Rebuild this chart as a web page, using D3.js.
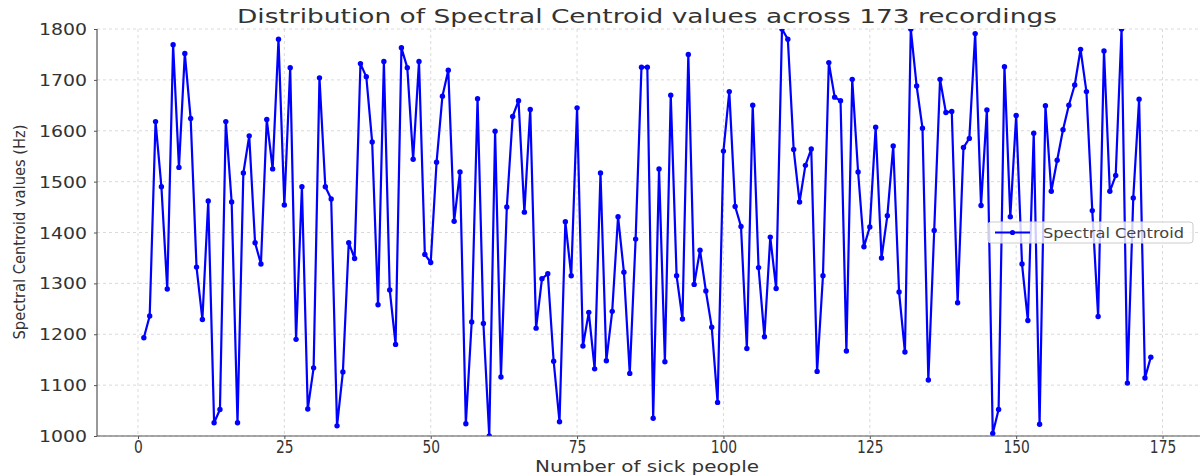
<!DOCTYPE html>
<html>
<head>
<meta charset="utf-8">
<script src="https://cdn.jsdelivr.net/npm/d3@7"></script>
<style>
  html, body { margin: 0; padding: 0; background: #fff; }
  svg { display: block; }
  text { font-family: "DejaVu Sans", sans-serif; }
</style>
</head>
<body>
<svg id="chart" width="1200" height="476"></svg>
<script>
// ---- Data ----
const recordings = d3.range(1, 174);
const centroidValues = [
  1193, 1236, 1618, 1490, 1289, 1769, 1528, 1752, 1624, 1332,
  1229, 1462, 1026, 1052, 1618, 1460, 1026, 1517, 1590, 1380,
  1338, 1622, 1525, 1780, 1454, 1724, 1190, 1490, 1053, 1134,
  1704, 1490, 1466, 1020, 1126, 1380, 1349, 1732, 1706, 1578,
  1258, 1736, 1287, 1180, 1763, 1724, 1544, 1736, 1357, 1341,
  1538, 1668, 1719, 1422, 1519, 1024, 1224, 1663, 1221, 1000,
  1599, 1116, 1450, 1628, 1659, 1440, 1642, 1212, 1309, 1319,
  1147, 1028, 1421, 1315, 1645, 1177, 1243, 1132, 1517, 1148,
  1245, 1431, 1322, 1123, 1387, 1725, 1725, 1035, 1525, 1146,
  1670, 1315, 1230, 1750, 1298, 1365, 1285, 1214, 1066, 1560,
  1677, 1451, 1412, 1172, 1650, 1331, 1195, 1391, 1290, 1800,
  1780, 1563, 1460, 1532, 1564, 1127, 1315, 1734, 1666, 1659,
  1167, 1701, 1519, 1372, 1411, 1607, 1350, 1433, 1570, 1283,
  1165, 1800, 1688, 1605, 1110, 1404, 1701, 1636, 1638, 1262,
  1567, 1585, 1791, 1453, 1641, 1005, 1052, 1726, 1431, 1630,
  1338, 1227, 1595, 1023, 1649, 1481, 1542, 1602, 1650, 1690,
  1760, 1677, 1443, 1235, 1757, 1481, 1512, 1800, 1104, 1468,
  1662, 1114, 1155
];
const xTicks = [0, 25, 50, 75, 100, 125, 150, 175];
const yTicks = [1000, 1100, 1200, 1300, 1400, 1500, 1600, 1700, 1800];
const titleText = "Distribution of Spectral Centroid values across 173 recordings";
const xLabelText = "Number of sick people";
const yLabelText = "Spectral Centroid values (Hz)";
const seriesName = "Spectral Centroid";

const data = recordings.map((r, i) => ({ x: r, y: centroidValues[i] }));

// ---- Layout ----
const svg = d3.select("#chart");
const plot = { left: 97, right: 1200, top: 29, bottom: 436 };

const x = d3.scaleLinear().domain([-7, 181.4]).range([plot.left, plot.right]);
const y = d3.scaleLinear().domain([1000, 1800]).range([plot.bottom, plot.top]);

svg.append("defs").append("clipPath").attr("id", "clip")
  .append("rect")
  .attr("x", plot.left).attr("y", plot.top)
  .attr("width", plot.right - plot.left).attr("height", plot.bottom - plot.top);

// Grid
const grid = svg.append("g").attr("class", "grid");
grid.selectAll("line.gy").data(yTicks).join("line")
  .attr("x1", plot.left).attr("x2", plot.right)
  .attr("y1", d => y(d)).attr("y2", d => y(d))
  .attr("stroke", "#d0d0d0").attr("stroke-width", 0.8)
  .attr("stroke-dasharray", "3,3");
grid.selectAll("line.gx").data(xTicks).join("line")
  .attr("y1", plot.top).attr("y2", plot.bottom)
  .attr("x1", d => x(d)).attr("x2", d => x(d))
  .attr("stroke", "#d0d0d0").attr("stroke-width", 0.8)
  .attr("stroke-dasharray", "3,3");

// Series
const g = svg.append("g").attr("clip-path", "url(#clip)");
const line = d3.line().x(d => x(d.x)).y(d => y(d.y));
g.append("path").datum(data)
  .attr("d", line)
  .attr("fill", "none")
  .attr("stroke", "#0000ff")
  .attr("stroke-width", 2.2)
  .attr("stroke-linejoin", "round");
g.selectAll("circle").data(data).join("circle")
  .attr("cx", d => x(d.x)).attr("cy", d => y(d.y))
  .attr("r", 2.7).attr("fill", "#0000ff");

// Axes
const xAxis = svg.append("g")
  .attr("transform", `translate(0,${plot.bottom})`)
  .call(d3.axisBottom(x).tickValues(xTicks).tickSize(3).tickPadding(2).tickFormat(d3.format("d")));
const yAxis = svg.append("g")
  .attr("transform", `translate(${plot.left},0)`)
  .call(d3.axisLeft(y).tickValues(yTicks).tickSize(3).tickPadding(7).tickFormat(d3.format("d")));

[xAxis, yAxis].forEach(a => {
  a.select(".domain").attr("stroke", "#555").attr("stroke-width", 1.2);
  a.selectAll(".tick line").attr("stroke", "#555");
  a.selectAll(".tick text").attr("fill", "#333").attr("font-family", "DejaVu Sans");
});
xAxis.select(".domain").attr("d", `M${plot.left},0H${plot.right}`);
yAxis.select(".domain").attr("d", `M0,${plot.bottom}V${plot.top}`);

xAxis.selectAll(".tick text")
  .attr("font-size", 17)
  .attr("textLength", d => String(d).length * 8.8)
  .attr("lengthAdjust", "spacingAndGlyphs");
yAxis.selectAll(".tick text")
  .attr("font-size", 15.5)
  .attr("dy", "0.36em")
  .attr("textLength", d => String(d).length * 12)
  .attr("lengthAdjust", "spacingAndGlyphs");

// Title & labels
svg.append("text")
  .attr("x", 647).attr("y", 23)
  .attr("text-anchor", "middle")
  .attr("font-size", 19)
  .attr("fill", "#333")
  .attr("textLength", 820).attr("lengthAdjust", "spacingAndGlyphs")
  .text(titleText);

svg.append("text")
  .attr("x", 647).attr("y", 472)
  .attr("text-anchor", "middle")
  .attr("font-size", 16)
  .attr("fill", "#333")
  .attr("textLength", 224).attr("lengthAdjust", "spacingAndGlyphs")
  .text(xLabelText);

svg.append("text")
  .attr("transform", "translate(25,232) rotate(-90)")
  .attr("text-anchor", "middle")
  .attr("font-size", 16)
  .attr("fill", "#333")
  .attr("textLength", 215).attr("lengthAdjust", "spacingAndGlyphs")
  .text(yLabelText);

// Legend
const lg = svg.append("g");
lg.append("rect")
  .attr("x", 988).attr("y", 222).attr("width", 205).attr("height", 21)
  .attr("rx", 3).attr("fill", "#fff").attr("fill-opacity", 0.8)
  .attr("stroke", "#ccc").attr("stroke-width", 1);
lg.append("line")
  .attr("x1", 995).attr("x2", 1030).attr("y1", 232.5).attr("y2", 232.5)
  .attr("stroke", "#0000ff").attr("stroke-width", 2);
lg.append("circle").attr("cx", 1012.5).attr("cy", 232.5).attr("r", 2.6).attr("fill", "#0000ff");
lg.append("text")
  .attr("x", 1043).attr("y", 237.5)
  .attr("font-size", 13.5).attr("fill", "#444")
  .attr("textLength", 141).attr("lengthAdjust", "spacingAndGlyphs")
  .text(seriesName);
</script>
</body>
</html>
